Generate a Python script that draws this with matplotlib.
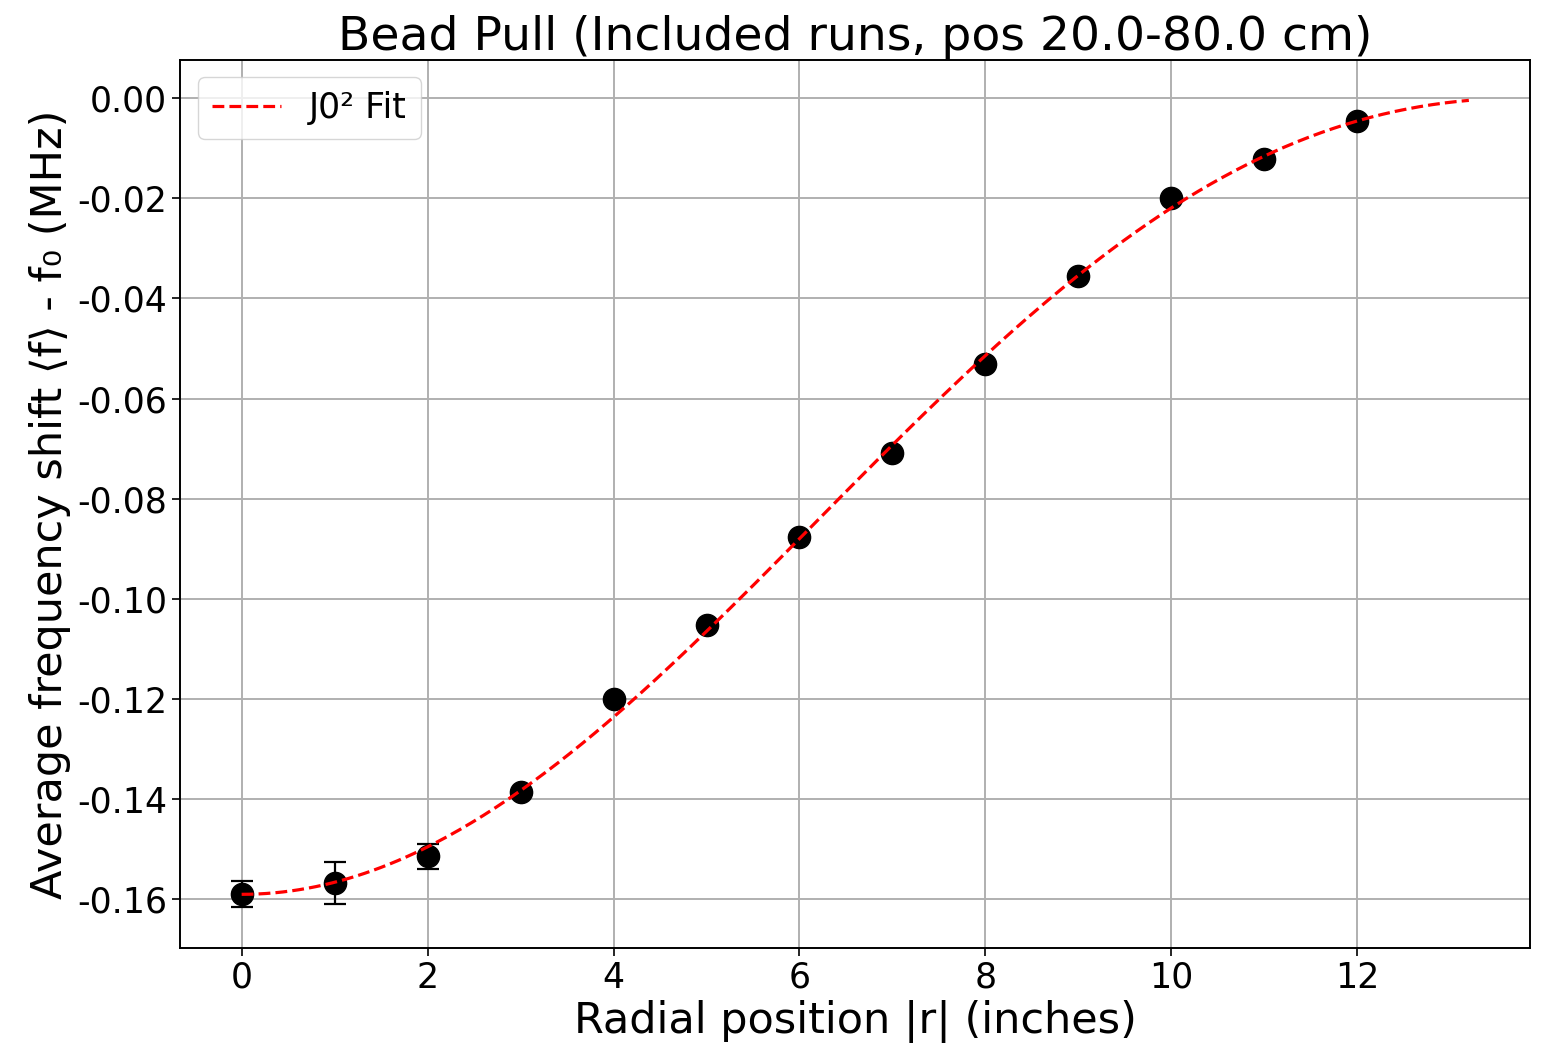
import numpy as np
import matplotlib
matplotlib.use("Agg")
import matplotlib.pyplot as plt
from math import factorial

r_inches = [0, 1, 2, 3, 4, 5, 6, 7, 8, 9, 10, 11, 12]
avg_shift = [-0.1590, -0.1568, -0.1514, -0.1385, -0.1199, -0.1053, -0.0876,
             -0.0708, -0.0531, -0.0355, -0.0200, -0.0122, -0.0046]
shift_err = [0.0026, 0.0042, 0.0025, 0.0002, 0.0002, 0.0002, 0.0002,
             0.0002, 0.0002, 0.0002, 0.0002, 0.0002, 0.0002]

# J0^2 fit parameters: f(r) = amp * J0(k r)^2
fit_amp = -0.1590
fit_k = 0.1746


def bessel_j0(x):
    # power series, fine for the small arguments here
    total = np.zeros_like(x)
    for m in range(25):
        total += (-1) ** m * (x / 2) ** (2 * m) / factorial(m) ** 2
    return total


r_fit = np.linspace(0, max(r_inches) * 1.1, 300)
f_fit = fit_amp * bessel_j0(fit_k * r_fit) ** 2

fig, ax = plt.subplots(figsize=(15.41, 10.53), dpi=100)
fig.subplots_adjust(left=0.117, right=0.993, top=0.943, bottom=0.1)

ax.errorbar(r_inches, avg_shift, yerr=shift_err, fmt='o', color='black',
            markersize=16, capsize=7.8, elinewidth=1.6, capthick=1.6, zorder=3)
ax.plot(r_fit, f_fit, '--', color='red', linewidth=2.3, label='J0² Fit', zorder=4)

ax.set_title('Bead Pull (Included runs, pos 20.0-80.0 cm)', fontsize=34)
ax.set_xlabel('Radial position |r| (inches)', fontsize=31)
ax.set_ylabel('Average frequency shift ⟨f⟩ - f₀ (MHz)', fontsize=31)
ax.tick_params(labelsize=25, length=6, width=1.2)
ax.yaxis.set_major_formatter(matplotlib.ticker.FormatStrFormatter('%.2f'))
for sp in ax.spines.values():
    sp.set_linewidth(1.4)
ax.grid(True, linewidth=1.4, color='#b0b0b0')
ax.legend(loc='upper left', fontsize=25)

fig.savefig('out.png')
